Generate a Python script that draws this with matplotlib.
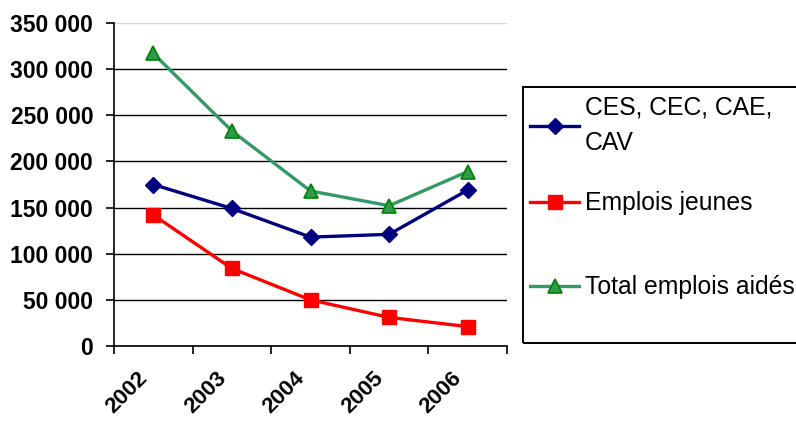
import matplotlib
matplotlib.use("Agg")
import matplotlib.pyplot as plt
import matplotlib.transforms as mtransforms
from matplotlib.patches import Rectangle

plt.rcParams["font.family"] = ["Liberation Sans", "DejaVu Sans"]

# data
years = ["2002", "2003", "2004", "2005", "2006"]
ces_cec = [175000, 149000, 118000, 121000, 169000]
emplois_jeunes = [142000, 84000, 50000, 31000, 21000]
total_aides = [317000, 233000, 168000, 152000, 189000]
y_ticks = [0, 50000, 100000, 150000, 200000, 250000, 300000, 350000]
y_labels = ["0", "50 000", "100 000", "150 000", "200 000", "250 000", "300 000", "350 000"]

fig = plt.figure(figsize=(7.96, 4.21), dpi=100)
ax = fig.add_axes([114 / 796, 75 / 421, 393 / 796, 323 / 421])

x = list(range(len(years)))
l1, = ax.plot(x, ces_cec, color="#000080", lw=2.4, marker="D", ms=8.5,
              mfc="#000080", mec="#000080", label="CES, CEC, CAE,\nCAV", zorder=3)
l2, = ax.plot(x, emplois_jeunes, color="#FF0000", lw=2.4, marker="s", ms=10,
              mfc="#FF0000", mec="#FF0000", label="Emplois jeunes", zorder=3)
l3, = ax.plot(x, total_aides, color="#339966", lw=2.4, marker="^", ms=10,
              mfc="#2E9A4E", mec="#008000", mew=1.2, label="Total emplois aidés", zorder=3)

ax.set_xlim(-0.5, len(years) - 0.5)
ax.set_ylim(0, 350000)

ax.set_yticks(y_ticks)
ax.set_yticklabels(y_labels, fontsize=16.5, fontweight="bold")
ax.yaxis.grid(True, color="black", lw=1.0)
ax.yaxis.get_gridlines()[-1].set_color("#d8d8d8")
ax.set_axisbelow(True)

# category boundaries as major ticks, year labels at category centres
ax.set_xticks([i - 0.5 for i in range(len(years) + 1)])
ax.set_xticklabels([])
ax.set_xticks(x, minor=True)
ax.set_xticklabels(years, minor=True, fontsize=16, fontweight="bold",
                   rotation=45, ha="right", va="center", rotation_mode="anchor")
ax.tick_params(axis="x", which="minor", length=0, pad=21)
ax.tick_params(axis="both", which="major", direction="out", length=6, width=1.2,
               color="black", pad=9)
offset = mtransforms.ScaledTranslation(-9 / 100, 0, fig.dpi_scale_trans)
for lbl in ax.xaxis.get_minorticklabels():
    lbl.set_transform(lbl.get_transform() + offset)

for side in ["top", "right"]:
    ax.spines[side].set_visible(False)
for side in ["left", "bottom"]:
    ax.spines[side].set_linewidth(1.2)

# legend box
fig.patches.append(Rectangle((523 / 796, 78 / 421), 0.5, 256 / 421,
                             transform=fig.transFigure, fill=False,
                             lw=1.4, ec="black"))
leg_kw = dict(frameon=False, fontsize=17.8, handlelength=1.95, handletextpad=0.25,
              borderpad=0.3, borderaxespad=0, loc="upper left")
leg1 = fig.legend(handles=[l1], bbox_to_anchor=(523 / 796, 1 - 88 / 421), **leg_kw)
leg1.get_texts()[0].set_linespacing(1.62)
leg2 = fig.legend(handles=[l2, l3], bbox_to_anchor=(523 / 796, 1 - 184 / 421),
                  labelspacing=2.42, **leg_kw)

fig.savefig("out.png", dpi=100)
